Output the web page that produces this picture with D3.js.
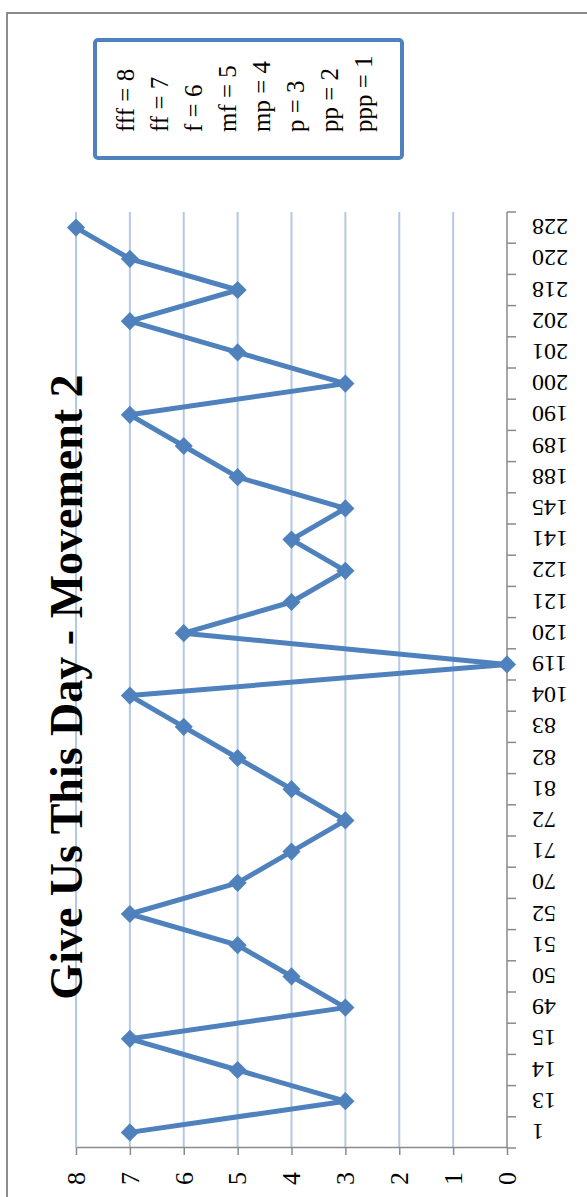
<!DOCTYPE html>
<html>
<head>
<meta charset="utf-8">
<script src="https://cdn.jsdelivr.net/npm/d3@7"></script>
<style>
  html, body { margin: 0; padding: 0; background: #ffffff; }
  svg { display: block; }
</style>
</head>
<body>
<script>
// ---- data ----
const title = "Give Us This Day - Movement 2";
const categories = ["1","13","14","15","49","50","51","52","70","71","72","81","82","83","104","119","120","121","122","141","145","188","189","190","200","201","202","218","220","228"];
const values = [7,3,5,7,3,4,5,7,5,4,3,4,5,6,7,0,6,4,3,4,3,5,6,7,3,5,7,5,7,8];
const yTicks = [0,1,2,3,4,5,6,7,8];
const legendLabels = ["fff = 8","ff = 7","f = 6","mf = 5","mp = 4","p = 3","pp = 2","ppp = 1"];

// ---- drawing ----
const W = 587, H = 1197;
const svg = d3.select("body").append("svg").attr("width", W).attr("height", H);
svg.append("rect").attr("width", W).attr("height", H).attr("fill", "#ffffff");

// The chart is drawn in its own (landscape) frame, then turned 90° counter-clockwise.
const g = svg.append("g").attr("transform", `translate(0,${H}) rotate(-90)`);

const serif = "'Liberation Serif', 'Times New Roman', serif";
const blue = "#4f81bd";
const grid = "#b3c8e8";
const axisGray = "#8a8a8a";

// outer border
g.append("rect").attr("x", -20).attr("y", 7).attr("width", 1204).attr("height", 640)
  .attr("fill", "none").attr("stroke", "#8c8c8c").attr("stroke-width", 2);

const x = d3.scaleBand().domain(categories).range([49, 985]).paddingInner(0).paddingOuter(0);
const y = d3.scaleLinear().domain([0, 8]).range([507, 76]);
const x0 = x.range()[0], x1 = x.range()[1];

// gridlines
g.append("g").selectAll("line").data(yTicks.filter(v => v > 0)).join("line")
  .attr("x1", x0).attr("x2", x1)
  .attr("y1", d => y(d)).attr("y2", d => y(d))
  .attr("stroke", grid).attr("stroke-width", 2);

// value axis
const yAxis = g.append("g").attr("transform", `translate(${x0},0)`)
  .call(d3.axisLeft(y).tickValues(yTicks).tickSize(7).tickSizeOuter(0).tickPadding(17).tickFormat(d3.format("d")));
yAxis.select(".domain").attr("stroke", axisGray).attr("stroke-width", 1.5);
yAxis.selectAll(".tick line").attr("stroke", axisGray).attr("stroke-width", 1.5);
yAxis.selectAll(".tick text").attr("font-family", serif).attr("font-size", 26).attr("fill", "#000");

// category axis
const cat = g.append("g");
cat.append("line").attr("x1", x0).attr("x2", x1).attr("y1", y(0)).attr("y2", y(0))
  .attr("stroke", axisGray).attr("stroke-width", 1.5);
const bounds = categories.map(c => x(c)).concat([x1]);
cat.selectAll("line.tk").data(bounds).join("line").attr("class", "tk")
  .attr("x1", d => d).attr("x2", d => d).attr("y1", y(0)).attr("y2", y(0) + 9)
  .attr("stroke", axisGray).attr("stroke-width", 1.5);
cat.selectAll("text").data(categories).join("text")
  .attr("x", d => x(d) + x.bandwidth() / 2).attr("y", 532)
  .attr("transform", d => `rotate(-90,${x(d) + x.bandwidth() / 2},532)`)
  .attr("text-anchor", "end").attr("dy", "0.35em")
  .attr("font-family", serif).attr("font-size", 24).attr("fill", "#000")
  .text(d => d);

// series line
const pts = categories.map((c, i) => [x(c) + x.bandwidth() / 2, y(values[i])]);
g.append("path").attr("d", d3.line()(pts))
  .attr("fill", "none").attr("stroke", blue).attr("stroke-width", 5).attr("stroke-linejoin", "round");
g.append("g").selectAll("path").data(pts).join("path")
  .attr("d", d3.symbol(d3.symbolSquare, 165)())
  .attr("transform", d => `translate(${d[0]},${d[1]}) rotate(45)`)
  .attr("fill", blue);

// title
g.append("text").attr("x", 510).attr("y", 82).attr("text-anchor", "middle")
  .attr("font-family", serif).attr("font-weight", "bold").attr("font-size", 46).attr("fill", "#000")
  .text(title);

// legend box
const lg = g.append("g");
lg.append("rect").attr("x", 1039).attr("y", 95).attr("width", 118).attr("height", 307).attr("rx", 3)
  .attr("fill", "#fff").attr("stroke", blue).attr("stroke-width", 4);
lg.selectAll("text").data(legendLabels).join("text")
  .attr("x", 1065).attr("y", (d, i) => 125 + i * 34).attr("dy", "0.35em")
  .attr("font-family", serif).attr("font-size", 25).attr("fill", "#000")
  .text(d => d);
</script>
</body>
</html>
